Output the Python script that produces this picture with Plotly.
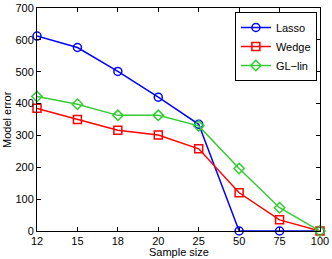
import plotly.graph_objects as go

sample_sizes = ["12", "15", "18", "20", "25", "50", "75", "100"]
lasso = [612, 576, 501, 420, 335, 0, 0, 0]
wedge = [385, 350, 316, 301, 258, 120, 35, 0]
gl_lin = [422, 398, 363, 363, 330, 196, 73, 0]
y_ticks = [0, 100, 200, 300, 400, 500, 600, 700]

fig = go.Figure()
series = [
    ("Lasso", lasso, "#0000ff", "circle-open"),
    ("Wedge", wedge, "#ff0000", "square-open"),
    ("GL\u2212lin", gl_lin, "#33cc33", "diamond-open"),
]
for name, vals, color, sym in series:
    fig.add_trace(go.Scatter(
        x=sample_sizes, y=vals, name=name, mode="lines+markers",
        line=dict(color=color, width=1.5),
        marker=dict(symbol=sym, size=8, color=color, line=dict(width=1.5, color=color)),
        cliponaxis=False,
    ))

fig.update_layout(
    width=332, height=259,
    margin=dict(l=37, r=12, t=8, b=28, autoexpand=False),
    paper_bgcolor="white", plot_bgcolor="white",
    font=dict(family="Liberation Sans, Arial, sans-serif", size=11, color="black"),
    showlegend=True,
    legend=dict(x=0.989, y=0.982, xanchor="right", yanchor="top",
                bgcolor="white", bordercolor="black", borderwidth=1,
                font=dict(size=11), tracegroupgap=0, itemwidth=30,
                itemsizing="trace"),
    annotations=[
        dict(text="Sample size", xref="paper", yref="paper", x=0.5, y=-0.092,
             xanchor="center", yanchor="middle", showarrow=False, font=dict(size=11)),
        dict(text="Model error", xref="paper", yref="paper", x=-0.108, y=0.5,
             xanchor="center", yanchor="middle", showarrow=False, textangle=-90,
             font=dict(size=11)),
    ],
)
fig.update_xaxes(
    type="category", range=[0, 7], showgrid=False, zeroline=False,
    showline=True, linecolor="black", linewidth=1, mirror="ticks",
    ticks="inside", ticklen=4, tickcolor="black", automargin=False,
)
fig.update_yaxes(
    range=[0, 700], tickvals=y_ticks, showgrid=False, zeroline=False,
    showline=True, linecolor="black", linewidth=1, mirror="ticks",
    ticks="inside", ticklen=4, tickcolor="black", automargin=False,
)
fig.write_html("out.html", config={"displayModeBar": False},
               post_script="document.body.style.margin='0';")
